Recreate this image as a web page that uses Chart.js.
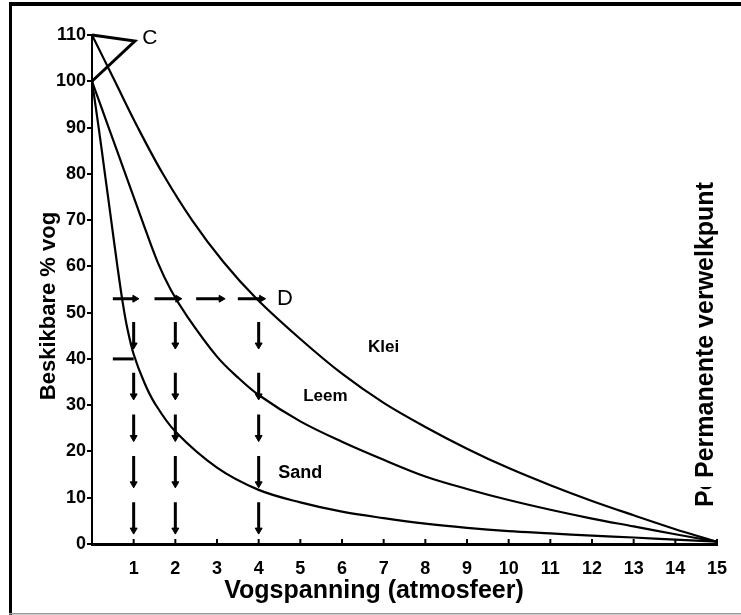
<!DOCTYPE html>
<html>
<head>
<meta charset="utf-8">
<script src="https://cdn.jsdelivr.net/npm/chart.js@4.4.1/dist/chart.umd.min.js"></script>
<style>
  html, body { margin: 0; padding: 0; background: #fff; }
  #wrap { width: 741px; height: 615px; position: relative; }
</style>
</head>
<body>
<div id="wrap"><canvas id="vogChart"></canvas></div>
<script>
// Vogspanning (atm) teenoor beskikbare % vog
const klei = [[0, 110], [0.55, 100], [1.1, 90], [1.7, 80], [2.4, 70], [3.15, 61], [3.95, 53], [5, 44.3], [6, 36.8], [7, 30.5], [8, 25.3], [9, 20.6], [10, 16.4], [11, 12.7], [12, 9.3], [13, 6.2], [14, 3.2], [15, 0.5]];
const leem = [[0, 100], [0.4, 90], [0.8, 80], [1.2, 70], [1.58, 60.8], [1.9, 54.8], [2.3, 49], [3, 40.5], [3.5, 36], [4, 32.2], [5, 26.5], [6, 22.1], [7, 18.2], [8, 14.6], [9, 11.9], [10, 9.5], [11, 7.4], [12, 5.5], [13, 3.8], [14, 2.1], [15, 0.5]];
const sand = [[0, 100], [0.16, 90], [0.31, 80], [0.46, 70], [0.61, 60], [0.74, 52], [0.85, 46.5], [1, 41], [1.25, 35], [1.5, 30.5], [2, 24.3], [3, 16.5], [4, 11.7], [5, 9.0], [6, 7.0], [7, 5.6], [8, 4.4], [9, 3.5], [10, 2.8], [11, 2.3], [12, 1.8], [13, 1.4], [14, 0.95], [15, 0.5]];

// punt C (driehoek) en die gestippelde pyle
const puntC = [[0, 110], [1.03, 108.7], [0, 100]];
const lyn40 = [[0.5, 40], [1, 40]];
const vlakD = 53;
const dHorisontaal = [[0.5, 1.03], [1.5, 2.06], [2.5, 3.1], [3.5, 4.07]];
const pylX = [1, 2, 4];
const dVertikaal = [[48, 43], [37, 32], [28, 23], [19, 13], [9, 3]];

const xTicks = [1, 2, 3, 4, 5, 6, 7, 8, 9, 10, 11, 12, 13, 14, 15];

const xTitel = 'Vogspanning (atmosfeer)';
const yTitel = 'Beskikbare % vog';
const pvpTitel = 'Permanente verwelkpunt';
const etikette = [
    { text: 'C', x: 1.39, y: 109.3, font: '21px "Liberation Sans", Arial' },
    { text: 'D', x: 4.63, y: 53, font: '22px "Liberation Sans", Arial' },
    { text: 'Klei', x: 7.0, y: 42.6, font: 'bold 17px "Liberation Sans", Arial' },
    { text: 'Leem', x: 5.6, y: 32, font: 'bold 17px "Liberation Sans", Arial' },
    { text: 'Sand', x: 5.0, y: 15.3, font: 'bold 18px "Liberation Sans", Arial' }
];

const toXY = arr => arr.map(p => ({ x: p[0], y: p[1] }));

// dashes with an arrow at the end of each
const hPyl = [];
dHorisontaal.forEach(s => {
    hPyl.push({ x: s[0], y: vlakD }, { x: s[1], y: vlakD }, { x: s[1], y: null });
});
const vPyl = [];
pylX.forEach(xv => {
    dVertikaal.forEach(s => {
        vPyl.push({ x: xv, y: s[0] }, { x: xv, y: s[1] }, { x: xv, y: null });
    });
});

const kurwe = (data) => ({
    data: toXY(data),
    borderColor: '#000',
    borderWidth: 2.2,
    pointRadius: 0,
    tension: 0.35,
    fill: false,
    clip: false
});

const pyl = (data, rot) => ({
    data: data,
    borderColor: '#000',
    backgroundColor: '#000',
    borderWidth: 3,
    spanGaps: false,
    pointStyle: 'triangle',
    pointRotation: rot,
    pointRadius: ctx => (ctx.dataIndex % 3 === 1 ? 4 : 0),
    pointBorderWidth: 1,
    tension: 0,
    fill: false,
    clip: false
});

const raamPlugin = {
    id: 'raam',
    beforeDraw(chart) {
        const c = chart.ctx;
        c.save();
        c.fillStyle = '#fff';
        c.fillRect(0, 0, chart.width, chart.height);
        c.fillStyle = '#000';
        c.fillRect(9, 2, chart.width - 9, 4);
        c.fillRect(9, 2, 3, chart.height - 2);
        c.fillStyle = '#999';
        c.fillRect(9, 613, chart.width - 9, 1.5);
        c.restore();
    },
    afterDraw(chart) {
        const c = chart.ctx;
        const xs = chart.scales.x, ys = chart.scales.y;
        c.save();
        c.fillStyle = '#000';
        c.strokeStyle = '#000';

        // x ticks point inward
        c.lineWidth = 2;
        xTicks.forEach(v => {
            const px = xs.getPixelForValue(v);
            c.beginPath();
            c.moveTo(px, ys.bottom);
            c.lineTo(px, ys.bottom - 5);
            c.stroke();
        });

        etikette.forEach(e => {
            c.font = e.font;
            c.textAlign = 'center';
            c.textBaseline = 'middle';
            c.fillText(e.text, xs.getPixelForValue(e.x), ys.getPixelForValue(e.y));
        });

        c.font = 'bold 25px "Liberation Sans", Arial';
        c.textAlign = 'center';
        c.textBaseline = 'alphabetic';
        c.fillText(xTitel, 374, 598);

        c.save();
        c.translate(55, 306);
        c.rotate(-Math.PI / 2);
        c.font = 'bold 22px "Liberation Sans", Arial';
        c.fillText(yTitel, 0, 0);
        c.restore();

        c.save();
        c.translate(713, 330);
        c.rotate(-Math.PI / 2);
        c.font = 'bold 25px "Liberation Sans", Arial';
        c.fillText(pvpTitel, 0, 0);
        c.restore();

        // afgesnyde kopie onder
        c.save();
        c.beginPath();
        c.rect(690, 487, 30, 24);
        c.clip();
        c.translate(713, 507);
        c.rotate(-Math.PI / 2);
        c.font = 'bold 25px "Liberation Sans", Arial';
        c.textAlign = 'left';
        c.fillText(pvpTitel, 0, 0);
        c.restore();

        c.restore();
    }
};

const vogChart = new Chart(document.getElementById('vogChart'), {
    type: 'line',
    data: {
        datasets: [
            kurwe(klei),
            kurwe(leem),
            kurwe(sand),
            { data: toXY(puntC), borderColor: '#000', borderWidth: 3, pointRadius: 0, tension: 0, fill: false, clip: false },
            { data: toXY(lyn40), borderColor: '#000', borderWidth: 3, pointRadius: 0, tension: 0, fill: false, clip: false },
            pyl(hPyl, 90),
            pyl(vPyl, 180)
        ]
    },
    options: {
        responsive: true,
        maintainAspectRatio: false,
        animation: false,
        layout: { padding: { left: 0, top: 35, right: 24, bottom: 0 } },
        plugins: { legend: { display: false }, tooltip: { enabled: false } },
        scales: {
            x: {
                type: 'linear',
                min: 0,
                max: 15,
                afterFit: s => { s.height = 71; },
                afterBuildTicks: s => { s.ticks = [0].concat(xTicks).map(v => ({ value: v })); },
                ticks: {
                    autoSkip: false,
                    maxRotation: 0,
                    padding: 6,
                    color: '#000',
                    font: { family: '"Liberation Sans", Arial', size: 18, weight: 'bold' },
                    callback: v => (v === 0 ? '' : v)
                },
                grid: { display: false },
                border: { display: true, color: '#000', width: 3 }
            },
            y: {
                type: 'linear',
                min: 0,
                max: 110,
                afterFit: s => { s.width = 92; },
                ticks: {
                    stepSize: 10,
                    padding: 1,
                    color: '#000',
                    font: { family: '"Liberation Sans", Arial', size: 18, weight: 'bold' }
                },
                grid: { display: true, drawOnChartArea: false, drawTicks: true, tickLength: 5, color: '#000', lineWidth: 2 },
                border: { display: true, color: '#000', width: 2 }
            }
        }
    },
    plugins: [raamPlugin]
});
</script>
</body>
</html>
